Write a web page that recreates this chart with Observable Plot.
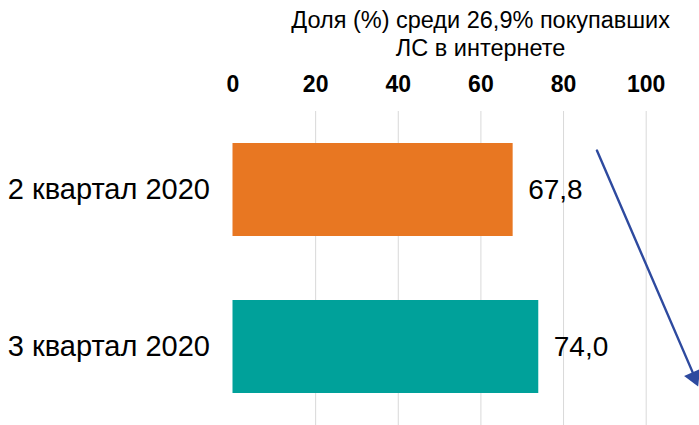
<!DOCTYPE html>
<html>
<head>
<meta charset="utf-8">
<script src="https://cdn.jsdelivr.net/npm/d3@7"></script>
<script src="https://cdn.jsdelivr.net/npm/@observablehq/plot@0.6"></script>
<style>
  html, body { margin: 0; padding: 0; background: #fff; }
  #chart svg { display: block; }
</style>
</head>
<body>
<div id="chart"></div>
<script>
// Data
const categories = ["2 квартал 2020", "3 квартал 2020"];
const values = [67.8, 74.0];
const barColors = ["#E87722", "#00A19A"];
const xTicks = [0, 20, 40, 60, 80, 100];
const gridTicks = [20, 40, 60, 80, 100];
const titleText = "Доля (%) среди 26,9% покупавших\nЛС в интернете";
// Annotation arrow (from Q2 toward Q3), in data units
const arrowFrom = {x: 92.2, cat: "2 квартал 2020"};
const arrowTo = {x: 108.6, cat: "3 квартал 2020"};
const arrowHeadAt = {x: 111.6, cat: "3 квартал 2020"};

const rows = categories.map((c, i) => ({cat: c, value: values[i], color: barColors[i]}));
const fmt = v => v.toFixed(1).replace(".", ",");

const chart = Plot.plot({
  width: 699,
  height: 425,
  marginLeft: 232.5,
  marginRight: 53.3,
  marginTop: 111,
  marginBottom: 0,
  style: {fontFamily: "'Liberation Sans', Arial, sans-serif", color: "#000", background: "#fff", overflow: "visible"},
  x: {domain: [0, 100]},
  y: {domain: categories, paddingInner: 0.407, paddingOuter: 0.2015},
  marks: [
    Plot.gridX(gridTicks, {stroke: "#d9d9d9", strokeOpacity: 1, strokeWidth: 1}),
    Plot.barX(rows, {x: "value", y: "cat", fill: "color"}),
    Plot.text(rows, {x: "value", y: "cat", text: d => fmt(d.value), textAnchor: "start", dx: 15, fontSize: 28, fill: "#000"}),
    Plot.axisX({anchor: "top", ticks: xTicks, tickSize: 0, tickPadding: 20, fontSize: 23, fontWeight: "bold", label: null}),
    Plot.axisY({tickSize: 0, tickPadding: 23, fontSize: 29, label: null}),
    Plot.text([titleText], {frameAnchor: "top", text: d => d, dx: 41, dy: -56, lineAnchor: "bottom", fontSize: 23.5, lineHeight: 1.17, fill: "#000"}),
    Plot.arrow([{}], {x1: () => arrowFrom.x, y1: () => arrowFrom.cat, x2: () => arrowTo.x, y2: () => arrowTo.cat,
      insetStart: -43, insetEnd: -32, headLength: 0, stroke: "#2E4A9F", strokeWidth: 2.4}),
    Plot.dot([arrowHeadAt], {x: "x", y: "cat", dy: 30.2, symbol: "triangle", r: 6.5, fill: "#2E4A9F", stroke: "none", rotate: 156.7})
  ]
});
document.getElementById("chart").appendChild(chart);
</script>
</body>
</html>
